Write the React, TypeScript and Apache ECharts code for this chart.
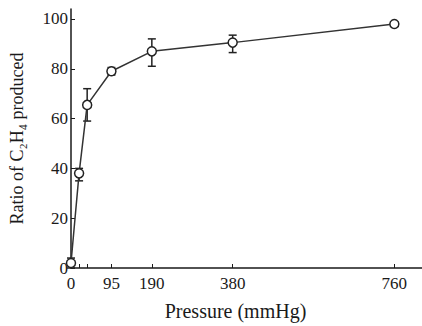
import React, { useEffect, useRef } from "react";
import * as echarts from "echarts";

const pressure = [0, 19, 38, 95, 190, 380, 760];
const ratio = [2, 38, 65.5, 79, 87, 90.5, 98];
const errLow = [0, 35, 59, 77.5, 81, 86.5, 98];
const errHigh = [4, 40, 72, 80.5, 92, 93.5, 98];
const xTickValues = [0, 19, 38, 95, 190, 380, 760];
const xLabelValues = [0, 95, 190, 380, 760];
const yTickValues = [0, 20, 40, 60, 80, 100];

const FONT = "Liberation Serif";
const INK = "#1a1a1a";

export default function App() {
  const ref = useRef<HTMLDivElement>(null);
  useEffect(() => {
    if (!ref.current) return;
    const chart = echarts.init(ref.current, null, { renderer: "svg" });
    const errData = pressure
      .map((p, i) => [p, errLow[i], errHigh[i]])
      .filter((d) => d[2] > d[1]);
    chart.setOption({
      animation: false,
      backgroundColor: "#fff",
      grid: { left: 67, right: 0, top: 9, bottom: 52 },
      xAxis: {
        type: "value",
        min: 0,
        max: 825,
        name: "Pressure (mmHg)",
        nameLocation: "middle",
        nameGap: 33,
        nameTextStyle: { fontFamily: FONT, fontSize: 20, color: INK, padding: [0, 22, 0, 0] },
        axisLine: { lineStyle: { color: INK, width: 1.5 } },
        axisTick: { inside: true, length: 4, customValues: xTickValues, lineStyle: { color: INK } },
        axisLabel: {
          customValues: xLabelValues,
          fontFamily: FONT,
          fontSize: 17,
          color: INK,
          margin: 7,
        },
        splitLine: { show: false },
      },
      yAxis: {
        type: "value",
        min: 0,
        max: 104,
        name: "Ratio of C₂H₄ produced",
        nameLocation: "middle",
        nameGap: 45,
        nameTextStyle: { fontFamily: FONT, fontSize: 18, color: INK },
        axisLine: { show: true, lineStyle: { color: INK, width: 1.5 } },
        axisTick: { show: true, inside: true, length: 4, customValues: yTickValues, lineStyle: { color: INK } },
        axisLabel: {
          customValues: yTickValues,
          fontFamily: FONT,
          fontSize: 17,
          color: INK,
          margin: 3,
        },
        splitLine: { show: false },
      },
      series: [
        {
          type: "line",
          data: pressure.map((p, i) => [p, ratio[i]]),
          lineStyle: { color: "#333", width: 1.5 },
          symbol: "circle",
          symbolSize: 9,
          itemStyle: { color: "#fff", borderColor: "#222", borderWidth: 1.5 },
          z: 3,
        },
        {
          type: "custom",
          data: errData,
          z: 2,
          renderItem: (params: any, api: any) => {
            const x = api.value(0);
            const lo = api.coord([x, api.value(1)]);
            const hi = api.coord([x, api.value(2)]);
            const w = 4;
            const style = { stroke: "#222", lineWidth: 1.5 };
            return {
              type: "group",
              children: [
                { type: "line", shape: { x1: lo[0], y1: lo[1], x2: hi[0], y2: hi[1] }, style },
                { type: "line", shape: { x1: lo[0] - w, y1: lo[1], x2: lo[0] + w, y2: lo[1] }, style },
                { type: "line", shape: { x1: hi[0] - w, y1: hi[1], x2: hi[0] + w, y2: hi[1] }, style },
              ],
            };
          },
        },
      ],
    });
    return () => chart.dispose();
  }, []);
  return <div ref={ref} style={{ width: 422, height: 326, position: "absolute", left: 0, top: 0 }} />;
}
